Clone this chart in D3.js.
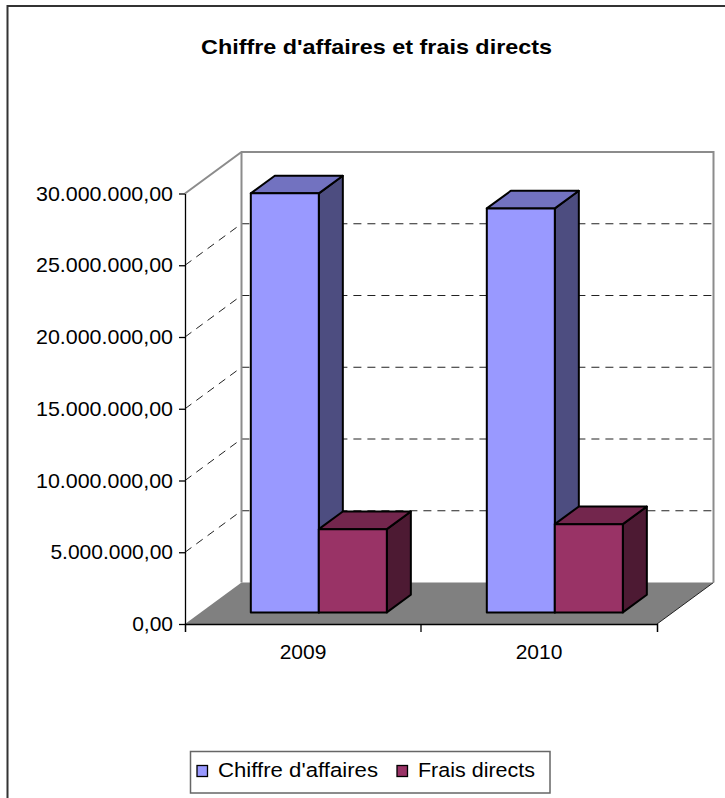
<!DOCTYPE html>
<html>
<head>
<meta charset="utf-8">
<script src="https://cdn.jsdelivr.net/npm/d3@7"></script>
<style>
  html, body { margin: 0; padding: 0; background: #fff; }
  svg { display: block; font-family: "Liberation Sans", Arial, sans-serif; }
</style>
</head>
<body>
<svg id="chart" width="725" height="798"></svg>
<script>
// ---- data ----
const categories = ["2009", "2010"];
const seriesNames = ["Chiffre d'affaires", "Frais directs"];
const chiffreAffaires = [29200000, 28150000];
const fraisDirects = [5800000, 6150000];
const yTicks = [0, 5000000, 10000000, 15000000, 20000000, 25000000, 30000000];
const titleText = "Chiffre d'affaires et frais directs";

// ---- layout ----
const plot = { left: 185, right: 657, bottom: 624, top: 193.5 };
const depth = { dx: 56.5, dy: -41.5 };          // floor depth projection
const barDepth = { front: 0.28, back: 0.705 };  // bar slab position within floor depth
const colors = {
  "Chiffre d'affaires": { front: "#9999ff", top: "#7272c0", side: "#4d4d80" },
  "Frais directs":      { front: "#993366", top: "#73264d", side: "#4d1a33" }
};
const FONT = "'Liberation Sans', Arial, sans-serif";

const svg = d3.select("#chart");

// french number format: 30.000.000,00
const fr = d3.formatLocale({ decimal: ",", thousands: ".", grouping: [3], currency: ["", " €"] });
const fmt = fr.format(",.2f");

const x0 = d3.scaleBand().domain(categories).range([plot.left, plot.right]);
const x1 = d3.scaleBand().domain(seriesNames).range([0, x0.bandwidth()])
  .paddingInner(0).paddingOuter(0.735);
const y = d3.scaleLinear().domain([0, 30000000]).range([plot.bottom, plot.top]);

// project a front-plane point (x, value) back by depth fraction f
const P = (x, v, f) => [x + f * depth.dx, y(v) + f * depth.dy];
const poly = pts => pts.map(p => p.join(",")).join(" ");

// outer frame
svg.append("rect")
  .attr("x", 7.5).attr("y", 6).attr("width", 800).attr("height", 900)
  .attr("fill", "none").attr("stroke", "#333").attr("stroke-width", 2);

// title
svg.append("text")
  .attr("x", 376.5).attr("y", 54)
  .attr("text-anchor", "middle")
  .attr("font-family", FONT)
  .attr("font-weight", "bold").attr("font-size", 20.5)
  .attr("textLength", 351).attr("lengthAdjust", "spacingAndGlyphs")
  .attr("fill", "#000")
  .text(titleText);

const yMax = y.domain()[1];

// floor
svg.append("polygon")
  .attr("points", poly([P(plot.left, 0, 0), P(plot.right, 0, 0), P(plot.right, 0, 1), P(plot.left, 0, 1)]))
  .attr("fill", "#808080");
svg.append("line")
  .attr("x1", P(plot.right, 0, 0)[0]).attr("y1", P(plot.right, 0, 0)[1])
  .attr("x2", P(plot.right, 0, 1)[0]).attr("y2", P(plot.right, 0, 1)[1])
  .attr("stroke", "#222").attr("stroke-width", 1);

// dashed gridlines: side wall then back wall
const grid = svg.append("g").attr("stroke", "#222").attr("stroke-width", 1)
  .attr("stroke-dasharray", "8,6").attr("fill", "none");
yTicks.filter(t => t > 0 && t < yMax).forEach(t => {
  grid.append("polyline")
    .attr("points", poly([P(plot.left, t, 0), P(plot.left, t, 1), P(plot.right, t, 1)]));
});

// wall edges
svg.append("polyline")
  .attr("points", poly([P(plot.left, yMax, 0), P(plot.left, yMax, 1), P(plot.right, yMax, 1), P(plot.right, 0, 1)]))
  .attr("fill", "none").attr("stroke", "#8c8c8c").attr("stroke-width", 2);
svg.append("line")
  .attr("x1", P(plot.left, 0, 1)[0]).attr("y1", P(plot.left, 0, 1)[1])
  .attr("x2", P(plot.left, yMax, 1)[0]).attr("y2", P(plot.left, yMax, 1)[1])
  .attr("stroke", "#8c8c8c").attr("stroke-width", 2);

// bars
const rows = [];
categories.forEach((c, i) => {
  rows.push({ cat: c, series: seriesNames[0], value: chiffreAffaires[i] });
  rows.push({ cat: c, series: seriesNames[1], value: fraisDirects[i] });
});
const bars = svg.append("g").attr("stroke", "#000").attr("stroke-width", 2)
  .attr("stroke-linejoin", "round");
rows.forEach(d => {
  const xl = x0(d.cat) + x1(d.series);
  const xr = xl + x1.bandwidth();
  const f0 = barDepth.front, f1 = barDepth.back;
  const col = colors[d.series];
  // right side
  bars.append("polygon")
    .attr("points", poly([P(xr, 0, f0), P(xr, d.value, f0), P(xr, d.value, f1), P(xr, 0, f1)]))
    .attr("fill", col.side);
  // top
  bars.append("polygon")
    .attr("points", poly([P(xl, d.value, f0), P(xr, d.value, f0), P(xr, d.value, f1), P(xl, d.value, f1)]))
    .attr("fill", col.top);
  // front
  bars.append("polygon")
    .attr("points", poly([P(xl, 0, f0), P(xr, 0, f0), P(xr, d.value, f0), P(xl, d.value, f0)]))
    .attr("fill", col.front);
});

// value axis
const yAxis = svg.append("g")
  .attr("transform", `translate(${plot.left},0)`)
  .call(d3.axisLeft(y).tickValues(yTicks).tickFormat(fmt).tickSize(6).tickSizeOuter(0).tickPadding(6));
yAxis.selectAll("text").attr("font-size", 21).attr("fill", "#000")
  .attr("font-family", FONT)
  .attr("textLength", 137).attr("lengthAdjust", "spacingAndGlyphs")
  .each(function() {
    // shorter labels keep their natural width
    const t = d3.select(this);
    if (t.text().length < 13) t.attr("textLength", null);
  });
yAxis.selectAll("line, path").attr("stroke", "#000").attr("stroke-width", 1.3);

// category axis
const xAxis = svg.append("g")
  .attr("transform", `translate(0,${plot.bottom})`)
  .call(d3.axisBottom(x0).tickSize(0).tickSizeOuter(8).tickPadding(20));
xAxis.selectAll("text").attr("font-size", 21).attr("fill", "#000")
  .attr("font-family", FONT);
xAxis.selectAll("path").attr("stroke", "#000").attr("stroke-width", 1.5);
// boundary ticks between categories
xAxis.selectAll("line.sep").data(categories.slice(1)).enter().append("line")
  .attr("class", "sep")
  .attr("x1", c => x0(c)).attr("x2", c => x0(c))
  .attr("y1", 0).attr("y2", 8)
  .attr("stroke", "#000").attr("stroke-width", 1.3);

// legend
const legend = svg.append("g");
legend.append("rect")
  .attr("x", 190.5).attr("y", 751.5).attr("width", 359.5).attr("height", 41.5)
  .attr("fill", "#fff").attr("stroke", "#666").attr("stroke-width", 1.5);
const legendItems = [
  { name: seriesNames[0], mx: 197, tx: 218, tl: 160 },
  { name: seriesNames[1], mx: 397, tx: 418, tl: 117 }
];
legendItems.forEach(it => {
  legend.append("rect")
    .attr("x", it.mx).attr("y", 765.5).attr("width", 10.5).attr("height", 11)
    .attr("fill", colors[it.name].front).attr("stroke", "#000").attr("stroke-width", 1.3);
  legend.append("text")
    .attr("x", it.tx).attr("y", 777)
    .attr("font-family", FONT)
    .attr("font-size", 20.5).attr("fill", "#000")
    .attr("textLength", it.tl).attr("lengthAdjust", "spacingAndGlyphs")
    .text(it.name);
});
</script>
</body>
</html>
